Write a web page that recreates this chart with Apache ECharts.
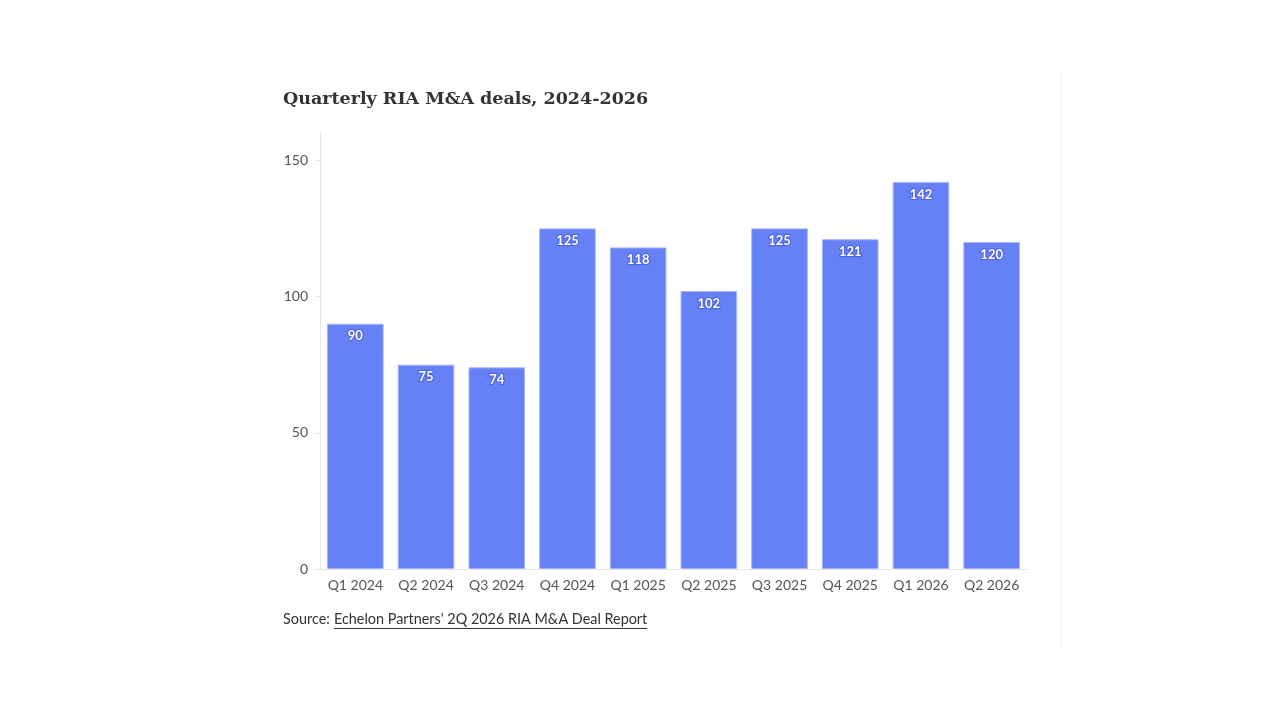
<!DOCTYPE html>
<html>
<head>
    <meta charset="utf-8">
    <script src="https://cdn.jsdelivr.net/npm/echarts@6/dist/echarts.min.js"></script>
    <style>
        html, body { margin: 0; padding: 0; background: #fff; }
    </style>
</head>
<body>
<div id="main" style="width: 1280px;height:720px;"></div>
<script type="text/javascript">
    // 季度数据
    var quarters = ['Q1 2024', 'Q2 2024', 'Q3 2024', 'Q4 2024', 'Q1 2025', 'Q2 2025', 'Q3 2025', 'Q4 2025', 'Q1 2026', 'Q2 2026'];
    var deals = [90, 75, 74, 125, 118, 102, 125, 121, 142, 120];
    var yTicks = [0, 50, 100, 150];

    var chart = echarts.init(document.getElementById('main'));

    var option = {
        backgroundColor: '#fff',
        animation: false,
        title: {
            text: 'Quarterly RIA M&A deals, 2024-2026',
            left: 283,
            top: 90,
            padding: 0,
            textStyle: {
                fontFamily: 'DejaVu Serif',
                fontWeight: 'bold',
                fontSize: 17.5,
                color: '#333'
            }
        },
        grid: {
            left: 320,
            right: 253,
            top: 133,
            bottom: 151
        },
        xAxis: {
            type: 'category',
            data: quarters,
            axisLine: { lineStyle: { color: '#e6e6e6' } },
            axisTick: { alignWithLabel: true, length: 5, lineStyle: { color: '#e6e6e6' } },
            axisLabel: {
                interval: 0,
                margin: 9,
                fontFamily: 'Lato',
                fontSize: 14,
                color: '#555'
            }
        },
        yAxis: {
            type: 'value',
            min: 0,
            max: 160,
            interval: 50,
            axisLine: { show: true, lineStyle: { color: '#e6e6e6' } },
            axisTick: { show: true, length: 5, customValues: yTicks, lineStyle: { color: '#e6e6e6' } },
            splitLine: { show: false },
            axisLabel: {
                customValues: yTicks,
                margin: 12,
                fontFamily: 'Lato',
                fontSize: 14,
                color: '#555'
            }
        },
        series: [{
            type: 'bar',
            data: deals,
            barCategoryGap: '20%',
            itemStyle: {
                color: '#6680f5',
                borderColor: '#a5b4fa',
                borderWidth: 1
            },
            label: {
                show: true,
                position: 'insideTop',
                distance: 6,
                color: '#fff',
                fontFamily: 'Lato',
                fontWeight: 'bold',
                fontSize: 13,
                textBorderColor: '#4a60e6',
                textBorderWidth: 2
            }
        }],
        graphic: [
            {
                type: 'line',
                shape: { x1: 1060.5, y1: 70, x2: 1060.5, y2: 648 },
                style: { stroke: '#f2f2f2', lineWidth: 1 },
                silent: true
            },
            {
                type: 'text',
                left: 283,
                top: 612,
                style: {
                    text: 'Source: ',
                    fontFamily: 'Lato',
                    fontSize: 14.4,
                    fill: '#333'
                }
            },
            {
                type: 'text',
                left: 334,
                top: 612,
                style: {
                    text: "Echelon Partners' 2Q 2026 RIA M&A Deal Report",
                    fontFamily: 'Lato',
                    fontSize: 14.4,
                    fill: '#333'
                }
            },
            {
                type: 'line',
                shape: { x1: 334, y1: 628.5, x2: 647, y2: 628.5 },
                style: { stroke: '#333', lineWidth: 1 },
                silent: true
            }
        ]
    };

    chart.setOption(option);
</script>
</body>
</html>
